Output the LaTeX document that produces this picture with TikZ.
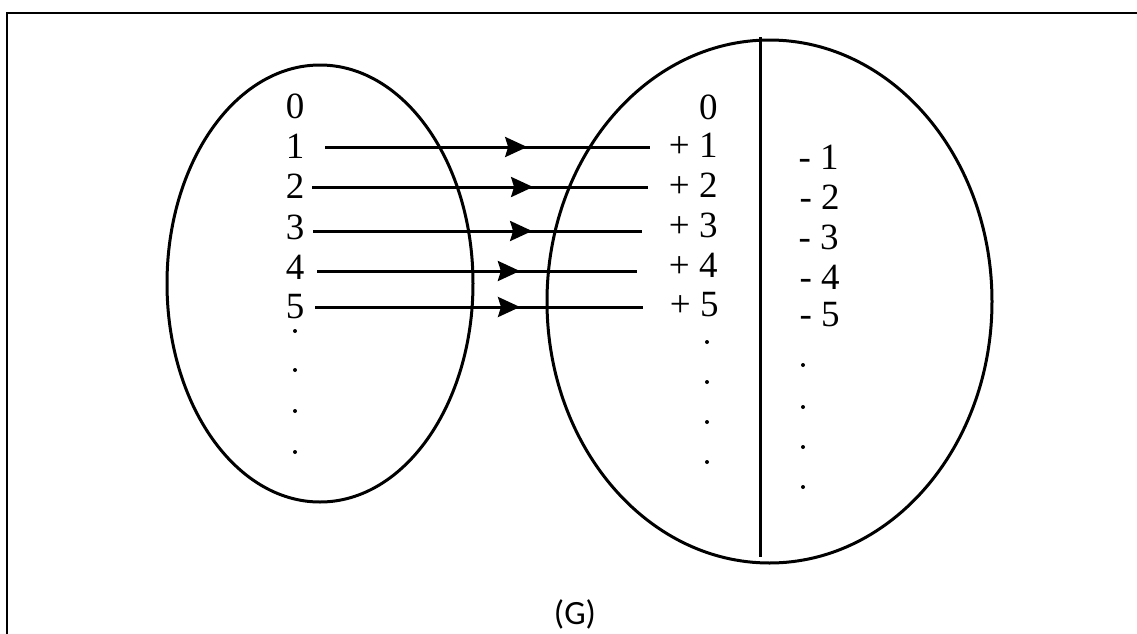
\documentclass[tikz,border=0pt]{standalone}
\usepackage{fontspec}
\setmainfont{Liberation Serif}
\newfontfamily\capfont{Carlito}
\usetikzlibrary{arrows.meta,decorations.markings}
\begin{document}
\begin{tikzpicture}[x=0.5pt,y=-0.5pt,
  num/.style={inner sep=0pt,font=\fontsize{18.5pt}{20pt}\selectfont},
  numL/.style={num,anchor=center},
  numR/.style={num,anchor=east},
  outline/.style={line width=1.5pt,black},
  mapline/.style={line width=1.5pt,black,
    decoration={markings,mark=at position #1 with {\arrow{Stealth[length=11pt,width=10pt,inset=1.5pt]}}},
    postaction={decorate}},
  dotmark/.style={fill=black}]
\useasboundingbox (0,0) rectangle (1137,633);
\clip (0,0) rectangle (1137,633);
% frame
\draw[line width=1pt] (7,700) -- (7,13) -- (1200,13);
% ellipses
\draw[outline] (320,283.5) ellipse [x radius=153, y radius=218.5];
\draw[outline] (769.5,301.5) ellipse [x radius=222.5, y radius=261.5];
\coordinate (vtop) at (760,37);
\coordinate (vbot) at (760,557);
\draw[outline] (vtop) -- (vbot);
% left numbers
\node[numL] (L0) at (295,106) {0};
\node[numL] (L1) at (295,146) {1};
\node[numL] (L2) at (295,186) {2};
\node[numL] (L3) at (295,227) {3};
\node[numL] (L4) at (295,267) {4};
\node[numL] (L5) at (295,307) {5};
\foreach \y in {331,370,411,452} \fill[dotmark] (295,\y) circle (1pt);
% right inner numbers
\node[numR] (R0) at (718,107) {0};
\node[numR] (R1) at (718,145) {+ 1};
\node[numR] (R2) at (718,185) {+ 2};
\node[numR] (R3) at (718,225) {+ 3};
\node[numR] (R4) at (718,265) {+ 4};
\node[numR] (R5) at (719,305) {+ 5};
\foreach \y in {342,382,422,462} \fill[dotmark] (707,\y) circle (1pt);
% right outer numbers
\node[numR] (N1) at (839,157) {- 1};
\node[numR] (N2) at (840,197) {- 2};
\node[numR] (N3) at (839,237) {- 3};
\node[numR] (N4) at (840,277) {- 4};
\node[numR] (N5) at (840,315) {- 5};
\foreach \y in {365,407,447,487} \fill[dotmark] (803,\y) circle (1pt);
% mapping lines
\coordinate (s1) at (325,147); \coordinate (e1) at (650,147);
\coordinate (s2) at (312,187); \coordinate (e2) at (648,187);
\coordinate (s3) at (313,231); \coordinate (e3) at (642,231);
\coordinate (s4) at (317,271); \coordinate (e4) at (637,271);
\coordinate (s5) at (315,307); \coordinate (e5) at (643,307);
\draw[mapline=0.622] (s1) -- (e1);
\draw[mapline=0.658] (s2) -- (e2);
\draw[mapline=0.666] (s3) -- (e3);
\draw[mapline=0.634] (s4) -- (e4);
\draw[mapline=0.625] (s5) -- (e5);
% caption
\node[inner sep=0pt,font=\capfont\fontsize{17pt}{19pt}\selectfont] (cap) at (575,614) {(G)};
\end{tikzpicture}
\end{document}
